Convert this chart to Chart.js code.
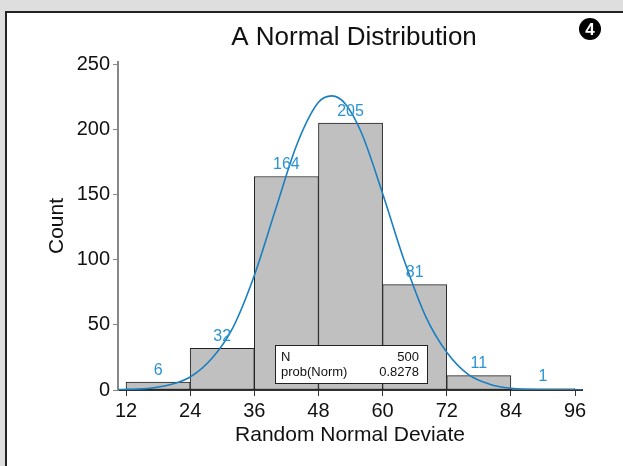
<!DOCTYPE html>
<html lang="en">
<head>
    <meta charset="UTF-8">
    <title>A Normal Distribution</title>
    <script src="https://cdn.jsdelivr.net/npm/chart.js"></script>
    <style>
        html, body { margin: 0; padding: 0; }
        body { width: 623px; height: 466px; background: #dedede; position: relative; overflow: hidden; }
        .panel {
            position: absolute; left: 5px; top: 11px; right: 0; bottom: 0;
            background: #fff; border-left: 2px solid #222; border-top: 2px solid #222;
        }
        #histChart { position: absolute; left: 0; top: 0; }
    </style>
</head>
<body>
    <div class="panel"></div>
    <canvas id="histChart" width="623" height="466"></canvas>
    <script>
        // Histogram bins (width 12) and their counts
        const binCenters = [18, 30, 42, 54, 66, 78, 90];
        const counts = [6, 32, 164, 205, 81, 11, 1];

        // Fitted normal curve, in counts per bin
        const curveX = [10.5, 16, 20, 24, 28, 32, 36, 40, 44, 48, 50.5, 53, 56, 60, 64, 68, 72, 76, 80, 84, 90, 97.3];
        const curveY = [0.3, 1.2, 3.8, 10, 24, 48, 88, 139, 189, 221, 226, 220, 198, 151, 100, 57, 29, 12, 4.5, 1.4, 0.2, 0];

        // Axis ticks
        const xTicks = [12, 24, 36, 48, 60, 72, 84, 96];
        const yTicks = [0, 50, 100, 150, 200, 250];

        // Summary box
        const statNames = ['N', 'prob(Norm)'];
        const statValues = ['500', '0.8278'];

        const FONT = "'Liberation Sans', Arial, sans-serif";
        const BLUE_LINE = '#1a7fc1';
        const BLUE_TEXT = '#2b93cf';

        const extras = {
            id: 'extras',
            afterDatasetsDraw(chart) {
                const ctx = chart.ctx;
                const x = chart.scales.x, y = chart.scales.y;
                const area = chart.chartArea;

                // count above each bar
                ctx.save();
                ctx.font = '16px ' + FONT;
                ctx.fillStyle = BLUE_TEXT;
                ctx.textAlign = 'center';
                ctx.textBaseline = 'middle';
                counts.forEach((c, i) => {
                    ctx.fillText(String(c), x.getPixelForValue(binCenters[i]), y.getPixelForValue(c) - 12);
                });
                ctx.restore();

                // summary box
                const bx = area.left + 157, by = area.bottom - 45, bw = 152, bh = 38;
                ctx.save();
                ctx.fillStyle = '#fff';
                ctx.fillRect(bx, by, bw, bh);
                ctx.strokeStyle = '#222';
                ctx.lineWidth = 1;
                ctx.strokeRect(bx + 0.5, by + 0.5, bw, bh);
                ctx.font = '13px ' + FONT;
                ctx.fillStyle = '#111';
                ctx.textBaseline = 'alphabetic';
                statNames.forEach((n, i) => {
                    ctx.textAlign = 'left';
                    ctx.fillText(n, bx + 6, by + 16 + i * 15);
                    ctx.textAlign = 'right';
                    ctx.fillText(statValues[i], bx + bw - 8, by + 16 + i * 15);
                });
                ctx.restore();
            },
            afterDraw(chart) {
                const ctx = chart.ctx;
                const area = chart.chartArea;
                ctx.save();
                // title
                ctx.font = '26px ' + FONT;
                ctx.fillStyle = '#111';
                ctx.textAlign = 'center';
                ctx.textBaseline = 'alphabetic';
                ctx.fillText('A Normal Distribution', (area.left + area.right) / 2 + 4, 45);
                // numbered badge
                ctx.beginPath();
                ctx.arc(590, 29, 11, 0, Math.PI * 2);
                ctx.fillStyle = '#000';
                ctx.fill();
                ctx.font = 'bold 17px ' + FONT;
                ctx.fillStyle = '#fff';
                ctx.textBaseline = 'middle';
                ctx.fillText('4', 590, 30);
                ctx.restore();
            }
        };

        const ctx = document.getElementById('histChart').getContext('2d');
        const histChart = new Chart(ctx, {
            data: {
                datasets: [{
                    type: 'line',
                    data: curveX.map((v, i) => ({ x: v, y: curveY[i] })),
                    borderColor: BLUE_LINE,
                    borderWidth: 1.6,
                    pointRadius: 0,
                    cubicInterpolationMode: 'monotone',
                    fill: false,
                    order: 1
                }, {
                    type: 'bar',
                    data: binCenters.map((v, i) => ({ x: v, y: counts[i] })),
                    backgroundColor: '#c0c0c0',
                    borderColor: '#222',
                    borderWidth: 1,
                    borderSkipped: false,
                    barPercentage: 1,
                    categoryPercentage: 1,
                    order: 2
                }]
            },
            options: {
                responsive: false,
                animation: false,
                layout: { padding: { left: 0, right: 41, top: 62, bottom: 0 } },
                plugins: { legend: { display: false }, tooltip: { enabled: false } },
                scales: {
                    x: {
                        type: 'linear',
                        min: 10.5,
                        max: 97.3,
                        offset: false,
                        afterBuildTicks: s => { s.ticks = xTicks.map(v => ({ value: v })); },
                        afterFit: s => { s.height = 76; },
                        grid: { offset: false, drawOnChartArea: false, drawTicks: true, tickLength: 6, color: '#333' },
                        border: { color: '#333', width: 2 },
                        ticks: { color: '#111', font: { family: FONT, size: 20 }, padding: 3, maxRotation: 0, autoSkip: false },
                        title: { display: true, text: 'Random Normal Deviate', color: '#111', font: { family: FONT, size: 21 }, padding: { top: 0, bottom: 18 } }
                    },
                    y: {
                        min: 0,
                        max: 252,
                        afterBuildTicks: s => { s.ticks = yTicks.map(v => ({ value: v })); },
                        afterFit: s => { s.width = 118; },
                        grid: { drawOnChartArea: false, drawTicks: true, tickLength: 5, color: '#888' },
                        border: { color: '#888', width: 2 },
                        ticks: { color: '#111', font: { family: FONT, size: 20 }, padding: 3 },
                        title: { display: true, text: 'Count', color: '#111', font: { family: FONT, size: 21 }, padding: { top: 45, bottom: 0 } }
                    }
                }
            },
            plugins: [extras]
        });
    </script>
</body>
</html>
